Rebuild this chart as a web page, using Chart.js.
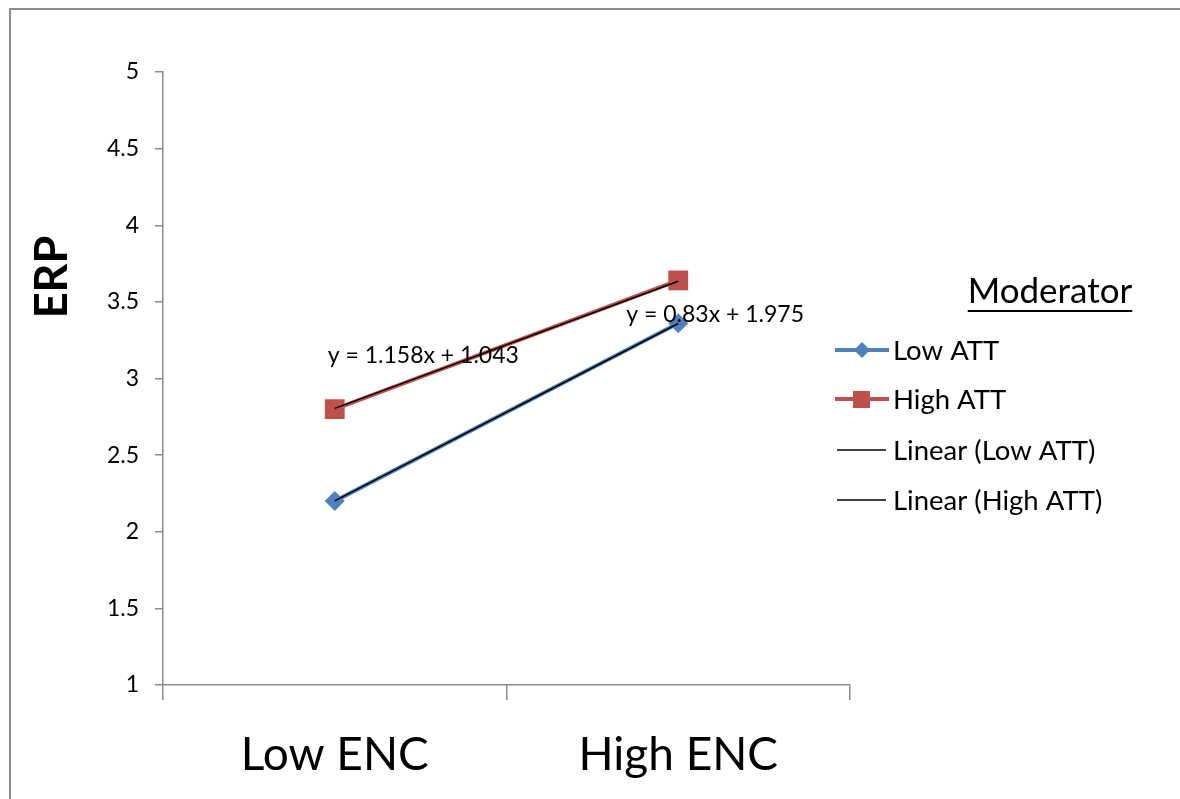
<!DOCTYPE html>
<html><head><meta charset="utf-8">
<script src="https://cdn.jsdelivr.net/npm/chart.js@4/dist/chart.umd.min.js"></script>
<style>html,body{margin:0;padding:0;background:#fff;}#wrap{position:relative;width:1180px;height:799px;}</style>
</head><body><div id="wrap"><canvas id="c" width="1180" height="799"></canvas></div>
<script>
const categories = ['Low ENC', 'High ENC'];
const lowATT = [2.2, 3.36];
const highATT = [2.8, 3.64];
const trendLow = [2.201, 3.359];
const trendHigh = [2.805, 3.635];
const seriesNames = ['Low ATT', 'High ATT', 'Linear (Low ATT)', 'Linear (High ATT)'];
const equationLabels = ['y = 1.158x + 1.043', 'y = 0.83x + 1.975'];
const yTitle = 'ERP';
const legendTitle = 'Moderator';
const yMin = 1, yMax = 5, yStep = 0.5;

const FONT = 'Lato, "Open Sans", sans-serif';
const BLUE = '#4F81BD', RED = '#C0504D', AXIS = '#8a8a8a';

const decor = {
  id: 'decor',
  beforeDraw(chart) {
    const ctx = chart.ctx;
    ctx.save();
    ctx.fillStyle = '#fff';
    ctx.fillRect(0, 0, chart.width, chart.height);
    ctx.strokeStyle = '#8c8c8c';
    ctx.lineWidth = 2;
    ctx.strokeRect(10, 9, 1400, 1400);
    ctx.restore();
  },
  afterDraw(chart) {
    const ctx = chart.ctx;
    const xs = chart.scales.x, ys = chart.scales.y;
    ctx.save();
    ctx.translate(52, 277);
    ctx.rotate(-Math.PI / 2);
    ctx.fillStyle = '#000';
    ctx.font = 'bold 45px ' + FONT;
    ctx.textAlign = 'center';
    ctx.textBaseline = 'middle';
    ctx.fillText(yTitle, 0, 0);
    ctx.restore();

    ctx.save();
    ctx.fillStyle = '#000';
    ctx.font = '23px ' + FONT;
    ctx.textAlign = 'left';
    ctx.textBaseline = 'middle';
    ctx.fillText(equationLabels[0], xs.getPixelForValue(0) - 7, ys.getPixelForValue(3.147));
    ctx.fillText(equationLabels[1], xs.getPixelForValue(1) - 52, ys.getPixelForValue(3.42));
    ctx.restore();

    ctx.save();
    ctx.fillStyle = '#000';
    ctx.font = '35px ' + FONT;
    ctx.textAlign = 'center';
    ctx.textBaseline = 'middle';
    const tw = ctx.measureText(legendTitle).width;
    ctx.fillText(legendTitle, 1050, 292);
    ctx.fillRect(1050 - tw / 2, 310, tw, 2);
    const ds = chart.data.datasets;
    const rows = [350, 399, 450, 500];
    ctx.font = '27.5px ' + FONT;
    ctx.textAlign = 'left';
    rows.forEach((ry, i) => {
      const d = ds[i];
      ctx.strokeStyle = d.borderColor;
      ctx.lineWidth = i < 2 ? 4 : 1.5;
      ctx.beginPath();
      ctx.moveTo(i < 2 ? 835 : 837, ry);
      ctx.lineTo(i < 2 ? 889 : 886, ry);
      ctx.stroke();
      if (i === 0) {
        ctx.fillStyle = BLUE;
        ctx.beginPath();
        ctx.moveTo(862, ry - 8); ctx.lineTo(870, ry); ctx.lineTo(862, ry + 8); ctx.lineTo(854, ry);
        ctx.closePath(); ctx.fill();
      } else if (i === 1) {
        ctx.fillStyle = RED;
        ctx.fillRect(853, ry - 8, 17, 17);
      }
      ctx.fillStyle = '#000';
      ctx.fillText(seriesNames[i], 893, ry + 1);
    });
    ctx.restore();
  }
};

new Chart(document.getElementById('c'), {
  type: 'line',
  data: {
    labels: categories,
    datasets: [
      { label: seriesNames[0], data: lowATT, borderColor: BLUE, backgroundColor: BLUE, borderWidth: 4, order: 2,
        pointStyle: 'rectRot', pointRadius: 10, pointHoverRadius: 10, pointBorderWidth: 0, fill: false, tension: 0 },
      { label: seriesNames[1], data: highATT, borderColor: RED, backgroundColor: RED, borderWidth: 4, order: 2,
        pointStyle: 'rect', pointRadius: 14, pointHoverRadius: 14, pointBorderWidth: 0, fill: false, tension: 0 },
      { label: seriesNames[2], data: trendLow, borderColor: '#000', borderWidth: 1.5, order: 1, pointRadius: 0, fill: false, tension: 0 },
      { label: seriesNames[3], data: trendHigh, borderColor: '#000', borderWidth: 1.5, order: 1, pointRadius: 0, fill: false, tension: 0 }
    ]
  },
  options: {
    responsive: false,
    devicePixelRatio: 1,
    animation: false,
    events: [],
    layout: { padding: { left: 0, right: 330, top: 72, bottom: 0 } },
    plugins: { legend: { display: false }, tooltip: { enabled: false }, title: { display: false } },
    scales: {
      x: {
        type: 'category',
        offset: true,
        grid: { offset: true, drawOnChartArea: false, drawTicks: true, tickLength: 15, color: AXIS, lineWidth: 1.5 },
        border: { color: AXIS, width: 1.5 },
        ticks: { color: '#000', font: { family: FONT, size: 46 }, padding: 28, maxRotation: 0 },
        afterFit(s) { s.height = 114; }
      },
      y: {
        min: yMin, max: yMax,
        grid: { drawOnChartArea: false, drawTicks: true, tickLength: 8, color: AXIS, lineWidth: 1.5 },
        border: { color: AXIS, width: 1.5 },
        ticks: { stepSize: yStep, color: '#000', font: { family: FONT, size: 23 }, padding: 16,
                 callback: (v) => String(v) },
        afterFit(s) { s.width = 163; }
      }
    }
  },
  plugins: [decor]
});
</script></body></html>
